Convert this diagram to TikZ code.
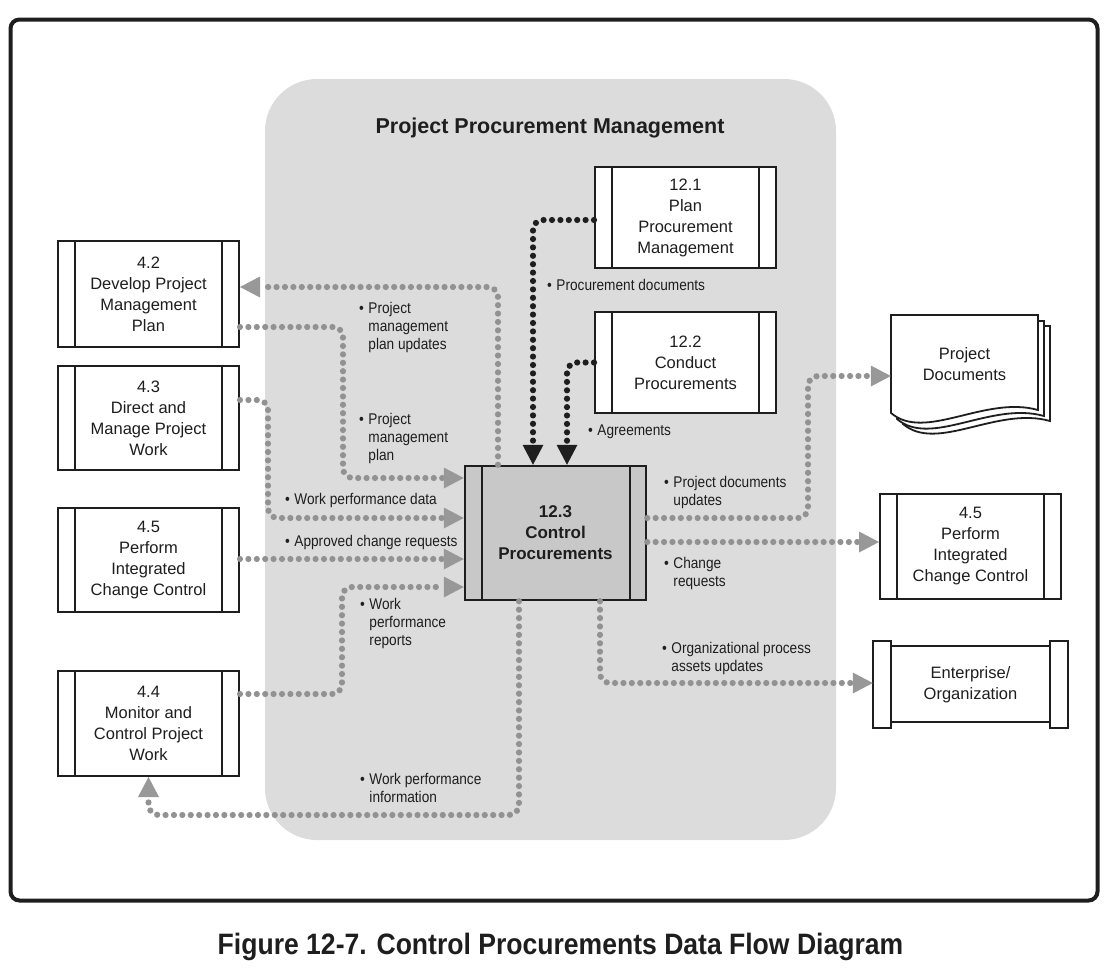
\documentclass[tikz,border=0pt]{standalone}
\usepackage{fontspec}
\setmainfont{Liberation Sans}
\newfontfamily\condfont{Liberation Sans}[FakeStretch=0.88]
\newfontfamily\capfont{Liberation Sans}[FakeStretch=0.9]
\usetikzlibrary{arrows.meta}

\definecolor{regiongray}{RGB}{220,220,220}
\definecolor{boxgray}{RGB}{200,200,200}
\definecolor{dotgray}{RGB}{146,146,146}
\definecolor{tipgray}{RGB}{152,152,152}
\definecolor{ink}{RGB}{30,30,30}

\newcommand{\blt}[1]{\textbullet\hspace{4.5pt}\begin{tabular}[t]{@{}l@{}}#1\end{tabular}}

\tikzset{
  procbox/.style={draw=ink, line width=2pt, fill=white, minimum width=181pt,
    minimum height=#1, align=center, inner sep=0pt, text=ink,
    font=\fontsize{16.5}{21}\selectfont,
    path picture={\draw[ink,line width=2pt]
      ([xshift=17pt]path picture bounding box.north west) -- ([xshift=17pt]path picture bounding box.south west)
      ([xshift=-17pt]path picture bounding box.north east) -- ([xshift=-17pt]path picture bounding box.south east);}},
  flow/.style={dotgray, line width=6.2pt, dash pattern=on 0pt off 8.4pt, line cap=round,
    rounded corners=10pt, -{Triangle[length=20pt,width=21pt,line width=0pt,color=tipgray]}},
  bflow/.style={ink, line width=6.2pt, dash pattern=on 0pt off 8.4pt, line cap=round,
    rounded corners=10pt, -{Triangle[length=20pt,width=21pt,line width=0pt,color=ink]}},
  lbl/.style={anchor=base west, inner sep=0pt, text=ink, font=\condfont\fontsize{15.5}{18}\selectfont},
}

\begin{document}
\begin{tikzpicture}[x=1pt,y=-1pt]
\useasboundingbox (0,0) rectangle (1115,967);

% outer frame
\draw[ink, line width=4pt, rounded corners=9pt] (10.5,19.5) rectangle (1097.5,900.5);

% gray region
\fill[regiongray, rounded corners=52pt] (265,79) rectangle (836,840);
\node[font=\bfseries\fontsize{21.5}{25}\selectfont, text=ink] (title) at (550,128) {Project Procurement Management};

% process boxes
\node[procbox=106pt] (b42) at (148.5,294) {4.2\\Develop Project\\Management\\Plan};
\node[procbox=104pt] (b43) at (148.5,418) {4.3\\Direct and\\Manage Project\\Work};
\node[procbox=104pt] (b45L) at (148.5,560) {4.5\\Perform\\Integrated\\Change Control};
\node[procbox=105pt] (b44) at (148.5,723.5) {4.4\\Monitor and\\Control Project\\Work};
\node[procbox=101pt] (b121) at (685.5,217.5) {12.1\\Plan\\Procurement\\Management};
\node[procbox=101pt] (b122) at (685.5,362.5) {12.2\\Conduct\\Procurements};
\node[procbox=105pt] (b45R) at (970.5,546.5) {4.5\\Perform\\Integrated\\Change Control};

% central process
\node[draw=ink, line width=2.5pt, fill=boxgray, minimum width=181pt, minimum height=134pt,
  align=center, inner sep=0pt, text=ink, font=\bfseries\fontsize{17}{21}\selectfont,
  path picture={\draw[ink,line width=2pt]
    ([xshift=17pt]path picture bounding box.north west) -- ([xshift=17pt]path picture bounding box.south west)
    ([xshift=-16pt]path picture bounding box.north east) -- ([xshift=-16pt]path picture bounding box.south east);}]
  (b123) at (555.5,533) {12.3\\Control\\Procurements};

% project documents (stack of pages)
\foreach \dx/\dy in {12/11, 6/6, 0/0} {
  \draw[ink, line width=1.8pt, fill=white]
    (891+\dx,315+\dy) -- (1038+\dx,315+\dy) -- (1038+\dx,410+\dy)
    .. controls (985+\dx,395+\dy) and (925+\dx,442+\dy) .. (891+\dx,413+\dy) -- cycle;
}
\node[minimum width=147pt, minimum height=98pt, inner sep=0pt, align=center, text=ink,
  font=\fontsize{16.5}{21}\selectfont] (pd) at (964.5,364) {Project\\Documents};

% enterprise / organization
\draw[ink, line width=2pt, fill=white] (891,646) rectangle (1050,722);
\draw[ink, line width=2pt, fill=white] (873,641) rectangle (891,728);
\draw[ink, line width=2pt, fill=white] (1050,641) rectangle (1068,728);
\node[minimum width=195pt, minimum height=87pt, inner sep=0pt, align=center, text=ink,
  font=\fontsize{16.5}{21}\selectfont] (ent) at (970.5,684.5) {Enterprise/\\Organization};

% flows
\draw[flow] (498,0 |- b123.north) |- (b42.east |- 0,287);
\draw[flow] (b42.east |- 0,327) -| (343,478) -- (b123.west |- 0,478);
\draw[flow] (b43.east |- 0,400) -| (268,518) -- (b123.west |- 0,518);
\draw[flow] (b45L.east |- 0,559) -- (b123.west |- 0,559);
\draw[flow] (b44.east |- 0,694) -| (342,587) -- (b123.west |- 0,587);
\draw[flow] (519,0 |- b123.south) |- (b44.south |- 0,815) -- (b44.south);
\draw[bflow] (b121.west |- 0,220) -| (533,0 |- b123.north);
\draw[bflow] (b122.west) -| (567,0 |- b123.north);
\draw[flow] (b123.east |- 0,518) -| (808,376) -- (pd.west |- 0,376);
\draw[flow] (b123.east |- 0,542) -- (b45R.west |- 0,542);
\draw[flow] (600,0 |- b123.south) |- (ent.west |- 0,683);

% labels
\node[lbl] (l1) at (359,313) {\blt{Project\\management\\plan updates}};
\node[lbl] (l2) at (359,424) {\blt{Project\\management\\plan}};
\node[lbl] (l3) at (285,504) {\blt{Work performance data}};
\node[lbl] (l4) at (285,546) {\blt{Approved change requests}};
\node[lbl] (l5) at (360,609) {\blt{Work\\performance\\reports}};
\node[lbl] (l6) at (360,784) {\blt{Work performance\\information}};
\node[lbl] (l7) at (547,290) {\blt{Procurement documents}};
\node[lbl] (l8) at (588,435) {\blt{Agreements}};
\node[lbl] (l9) at (664,487) {\blt{Project documents\\updates}};
\node[lbl] (l10) at (664,568) {\blt{Change\\requests}};
\node[lbl] (l11) at (662,653) {\blt{Organizational process\\assets updates}};

% caption
\node[anchor=base, inner sep=0pt, text=ink, font=\capfont\bfseries\fontsize{29.5}{34}\selectfont]
  (cap) at (560.5,954) {Figure 12-7. Control Procurements Data Flow Diagram};
\end{tikzpicture}
\end{document}
